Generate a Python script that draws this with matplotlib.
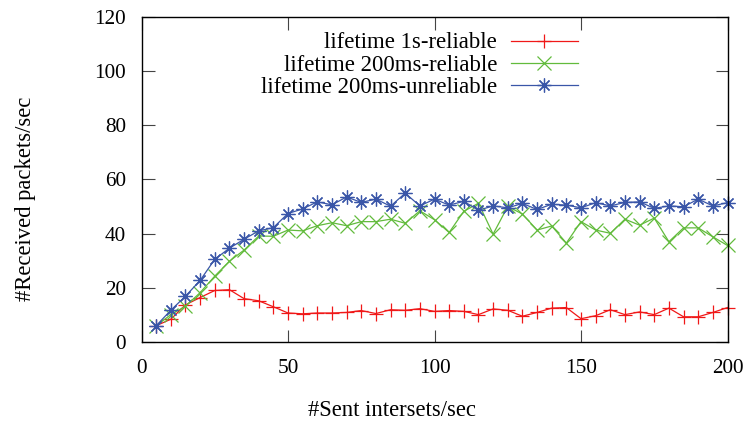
import matplotlib
matplotlib.use("Agg")
import matplotlib.pyplot as plt

plt.rcParams['font.family'] = ['Liberation Serif', 'DejaVu Serif']

# sent interests per second
sent = [5, 10, 15, 20, 25, 30, 35, 40, 45, 50, 55, 60, 65, 70, 75, 80, 85, 90, 95, 100,
        105, 110, 115, 120, 125, 130, 135, 140, 145, 150, 155, 160, 165, 170, 175, 180,
        185, 190, 195, 200]

recv_1s_reliable = [6.0, 8.4, 13.7, 16.4, 19.0, 19.3, 16.0, 15.2, 13.0, 10.7, 10.4, 10.7,
                    10.7, 10.9, 11.6, 10.5, 11.9, 11.7, 12.3, 11.3, 11.6, 11.3, 10.1, 12.2,
                    11.7, 9.5, 10.9, 12.5, 12.7, 8.6, 9.7, 11.9, 10.1, 11.1, 10.1, 12.5,
                    9.3, 9.3, 10.9, 12.7]

recv_200ms_reliable = [6.0, 10.1, 13.2, 18.2, 24.3, 29.8, 33.9, 39.1, 39.0, 41.3, 41.0, 42.9,
                       44.0, 42.9, 44.4, 44.4, 45.3, 43.8, 48.4, 45.1, 40.4, 48.2, 51.2, 39.8,
                       50.0, 47.2, 41.3, 42.8, 36.5, 44.4, 41.3, 40.1, 45.3, 43.1, 45.7, 37.0,
                       42.1, 42.1, 38.8, 35.6]

recv_200ms_unreliable = [6.0, 11.7, 16.9, 22.7, 30.5, 34.6, 37.9, 41.0, 42.2, 47.4, 49.1, 51.7,
                         50.6, 53.5, 51.5, 52.7, 50.1, 54.9, 50.2, 52.7, 50.5, 51.9, 48.6, 50.2,
                         49.5, 51.1, 48.9, 50.8, 50.5, 49.5, 51.4, 50.2, 51.5, 51.7, 49.3, 50.2,
                         49.9, 52.7, 50.2, 51.4]

labels = ["lifetime 1s-reliable", "lifetime 200ms-reliable", "lifetime 200ms-unreliable"]
colors = ["#f01818", "#62bb3c", "#3a56a8"]
markers = ["+", "x", (8, 2, 0)]

W, H = 749, 423
fig = plt.figure(figsize=(W / 100, H / 100), dpi=100)
ax = fig.add_axes([141.5 / W, 1 - 342 / H, (727.5 - 141.5) / W, (342 - 16.7) / H])

series = [recv_1s_reliable, recv_200ms_reliable, recv_200ms_unreliable]
for ys, lab, c, m in zip(series, labels, colors, markers):
    ax.plot(sent, ys, color=c, lw=0.9, marker=m, markersize=10, markeredgewidth=0.9,
            label=lab, clip_on=False)

ax.set_xlim(0, 200)
ax.set_ylim(0, 120)
ax.set_xticks([0, 50, 100, 150, 200])
ax.set_yticks([0, 20, 40, 60, 80, 100, 120])
ax.tick_params(direction='in', length=9, width=0.8, top=True, right=True,
               labelsize=15.3, color='#444444')
ax.tick_params(axis='y', pad=11)
ax.tick_params(axis='x', pad=12.5)
for s in ax.spines.values():
    s.set_linewidth(1.0)

fig.text(392 / W, 1 - 410 / H, "#Sent intersets/sec", ha='center', va='center', fontsize=16.3)
fig.text(26 / W, 1 - 199 / H, "#Received packets/sec", ha='center', va='center',
         rotation=90, fontsize=16.3)

ax.legend(loc='upper right', bbox_to_anchor=(578 / W, 1 - 32.5 / H),
          bbox_transform=fig.transFigure, frameon=False, markerfirst=False,
          fontsize=16.4, handlelength=2.95, handletextpad=0.6, labelspacing=0.06,
          borderpad=0, borderaxespad=0)

fig.savefig("out.png", dpi=100)
